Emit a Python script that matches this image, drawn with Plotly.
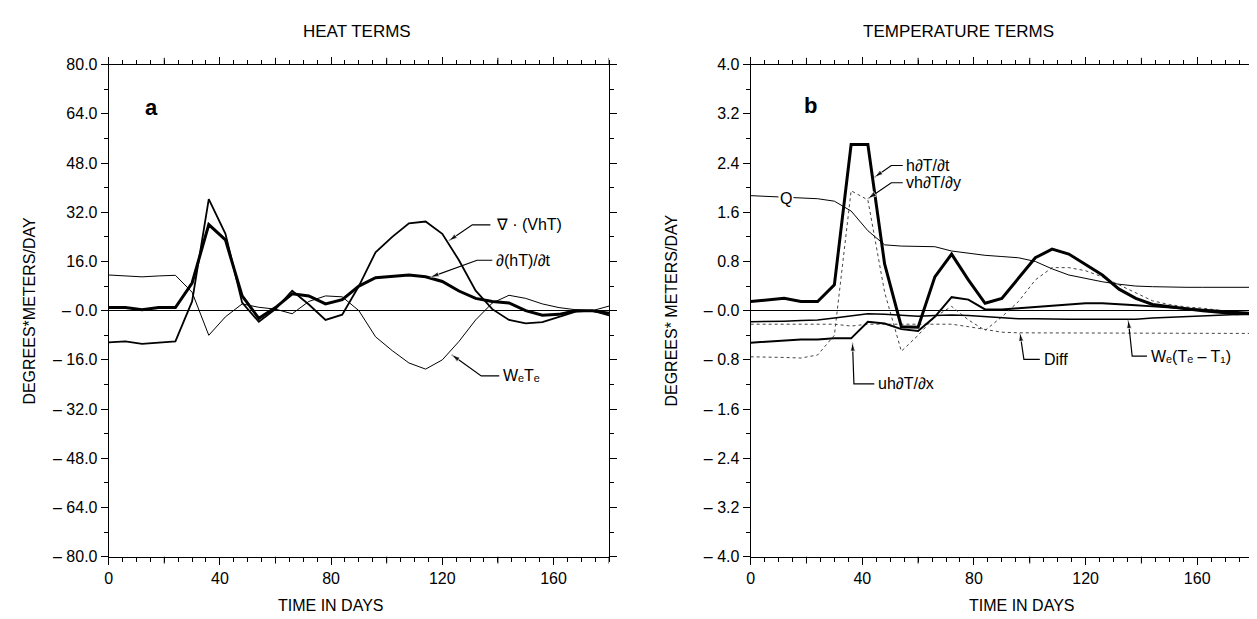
import plotly.graph_objects as go

# time axis (days) shared by both panels
days = [0, 6, 12, 18, 24, 30, 36, 42, 48, 54, 60, 66, 72, 78, 84, 90,
        96, 102, 108, 114, 120, 126, 132, 138, 144, 150, 156, 162, 168, 174, 180]

# panel a: heat terms
dhT_dt = [1.0, 1.0, 0.3, 1.0, 1.0, 9.0, 28.0, 23.0, 4.8, -2.5, 1.0, 5.5, 4.8, 2.2, 3.6, 8.0,
          10.7, 11.1, 11.6, 11.0, 9.5, 6.4, 4.0, 3.0, 2.5, 0.0, -1.5, -1.2, 0.0, 0.0, -0.8]
div_VhT = [-10.3, -10.0, -10.8, -10.3, -10.0, 3.0, 36.3, 25.0, 2.6, -3.6, 0.5, 6.5, 2.0, -3.0, -1.3, 8.0,
           19.0, 24.0, 28.4, 29.0, 25.0, 16.4, 6.5, 0.5, -3.0, -4.1, -3.7, -2.0, -0.3, 0.0, -1.5]
WeTe = [11.6, 11.2, 11.0, 11.3, 11.5, 6.0, -8.0, -2.0, 2.2, 1.1, 0.5, -1.0, 3.0, 4.8, 4.5, 0.0,
        -8.5, -13.0, -17.0, -19.0, -16.0, -10.0, -3.0, 2.5, 5.0, 4.0, 2.2, 1.0, 0.3, 0.0, 1.5]

# panel b: temperature terms
h_dTdt = [0.15, 0.17, 0.2, 0.15, 0.15, 0.42, 2.7, 2.7, 0.76, -0.26, -0.27, 0.55, 0.92, 0.5, 0.12, 0.2,
          0.53, 0.86, 1.0, 0.92, 0.75, 0.58, 0.35, 0.2, 0.1, 0.06, 0.03, 0.0, -0.03, -0.05, -0.05]
vh_dTdy = [-0.75, -0.75, -0.76, -0.77, -0.72, -0.4, 1.95, 1.8, 0.3, -0.66, -0.4, -0.1, 0.07, -0.15, -0.32, -0.1,
           0.15, 0.5, 0.7, 0.7, 0.65, 0.55, 0.42, 0.28, 0.16, 0.1, 0.06, 0.04, 0.0, -0.03, -0.05]
Q = [1.87, 1.86, 1.85, 1.84, 1.82, 1.78, 1.62, 1.3, 1.07, 1.05, 1.05, 1.04, 0.97, 0.93, 0.9, 0.88,
     0.86, 0.8, 0.68, 0.58, 0.52, 0.47, 0.43, 0.4, 0.39, 0.38, 0.38, 0.38, 0.38, 0.38, 0.38]
uh_dTdx = [-0.52, -0.5, -0.48, -0.47, -0.47, -0.45, -0.45, -0.18, -0.21, -0.3, -0.33, -0.1, 0.22, 0.18, 0.02, 0.02,
           0.04, 0.06, 0.08, 0.1, 0.12, 0.12, 0.11, 0.09, 0.07, 0.05, 0.03, 0.01, 0.0, -0.02, -0.04]
Diff = [-0.22, -0.22, -0.22, -0.22, -0.22, -0.22, -0.25, -0.22, -0.22, -0.22, -0.22, -0.22, -0.22, -0.26, -0.3, -0.35,
        -0.36, -0.36, -0.36, -0.36, -0.36, -0.36, -0.36, -0.37, -0.37, -0.37, -0.37, -0.37, -0.37, -0.37, -0.37]
We_Te_T1 = [-0.18, -0.18, -0.17, -0.16, -0.15, -0.12, -0.08, -0.05, -0.06, -0.08, -0.09, -0.08, -0.07, -0.08, -0.1, -0.12,
            -0.13, -0.13, -0.14, -0.14, -0.14, -0.14, -0.14, -0.14, -0.12, -0.11, -0.1, -0.08, -0.07, -0.06, -0.05]

# tick positions / labels
x_labeled = [0, 40, 80, 120, 160]
x_long = [20, 60, 100, 140, 180]
ya_ticks = [-80, -64, -48, -32, -16, 0, 16, 32, 48, 64, 80]
ya_text = ["\u2013 80.0", "\u2013 64.0", "\u2013 48.0", "\u2013 32.0", "\u2013 16.0", "\u2013 0.0",
           "16.0", "32.0", "48.0", "64.0", "80.0"]
yb_ticks = [-4.0, -3.2, -2.4, -1.6, -0.8, 0.0, 0.8, 1.6, 2.4, 3.2, 4.0]
yb_text = ["\u2013 4.0", "\u2013 3.2", "\u2013 2.4", "\u2013 1.6", "\u2013 0.8", "\u2013 0.0",
           "0.8", "1.6", "2.4", "3.2", "4.0"]

W, H = 1257, 619
FONT = "Liberation Sans, DejaVu Sans, Arial, sans-serif"
fig = go.Figure()

# panel a lines
fig.add_trace(go.Scatter(x=days, y=WeTe, mode="lines", line=dict(color="black", width=1),
                         xaxis="x", yaxis="y"))
fig.add_trace(go.Scatter(x=days, y=div_VhT, mode="lines", line=dict(color="black", width=1.8),
                         xaxis="x", yaxis="y"))
fig.add_trace(go.Scatter(x=days, y=dhT_dt, mode="lines", line=dict(color="black", width=3),
                         xaxis="x", yaxis="y"))

# panel b lines
fig.add_trace(go.Scatter(x=days, y=Diff, mode="lines", line=dict(color="#444", width=1, dash="dot"),
                         xaxis="x2", yaxis="y2"))
fig.add_trace(go.Scatter(x=days, y=vh_dTdy, mode="lines", line=dict(color="#444", width=1, dash="dot"),
                         xaxis="x2", yaxis="y2"))
fig.add_trace(go.Scatter(x=days, y=Q, mode="lines", line=dict(color="black", width=1),
                         xaxis="x2", yaxis="y2"))
fig.add_trace(go.Scatter(x=days, y=We_Te_T1, mode="lines", line=dict(color="black", width=1.5),
                         xaxis="x2", yaxis="y2"))
fig.add_trace(go.Scatter(x=days, y=uh_dTdx, mode="lines", line=dict(color="black", width=2),
                         xaxis="x2", yaxis="y2"))
fig.add_trace(go.Scatter(x=days, y=h_dTdt, mode="lines", line=dict(color="black", width=3),
                         xaxis="x2", yaxis="y2"))

top = 1 - 50 / H
bot = 1 - 556 / H

xcommon = dict(range=[0, 180], showline=True, linecolor="black", linewidth=1, mirror="ticks",
               ticks="outside", ticklen=7, tickcolor="black", tickvals=x_labeled,
               minor=dict(ticks="outside", ticklen=4, tick0=0, dtick=5, tickcolor="black"),
               showgrid=False, zeroline=False, tickfont=dict(size=16, color="black"))
ycommon = dict(showline=True, linecolor="black", linewidth=1, mirror="ticks",
               ticks="outside", ticklen=7, tickcolor="black", showgrid=False,
               zeroline=True, zerolinecolor="black", zerolinewidth=1,
               tickfont=dict(size=16, color="black"))

fig.update_layout(
    width=W, height=H, margin=dict(l=0, r=0, t=0, b=0),
    paper_bgcolor="white", plot_bgcolor="white", showlegend=False,
    font=dict(family=FONT, color="black"),
    xaxis=dict(domain=[97 / W, 599 / W], anchor="y", **xcommon),
    yaxis=dict(domain=[bot, top], anchor="x", range=[-80, 80], tickvals=ya_ticks, ticktext=ya_text,
               minor=dict(ticks="outside", ticklen=4, tick0=0, dtick=8, tickcolor="black"), **ycommon),
    xaxis2=dict(domain=[741 / W, 1245 / W], anchor="y2", **xcommon),
    yaxis2=dict(domain=[bot, top], anchor="x2", range=[-4, 4], tickvals=yb_ticks, ticktext=yb_text,
                minor=dict(ticks="outside", ticklen=4, tick0=0, dtick=0.4, tickcolor="black"), **ycommon),
)

# long unlabeled ticks at 20, 60, 100, ... (bottom and top of each panel)
for xr in ["x", "x2"]:
    for v in x_long:
        fig.add_shape(type="line", xref=xr, yref="paper", x0=v, x1=v, y0=bot, y1=bot - 7 / H,
                      line=dict(color="black", width=1))
        fig.add_shape(type="line", xref=xr, yref="paper", x0=v, x1=v, y0=top, y1=top + 7 / H,
                      line=dict(color="black", width=1))


def label(text, x, y, xa, ya, size=16, anchor="left", bg=None):
    fig.add_annotation(text=text, x=x, y=y, xref=xa, yref=ya, showarrow=False,
                       xanchor=anchor, yanchor="middle", font=dict(size=size, family=FONT),
                       bgcolor=bg)


def leader(tip, elbow, end, xa, ya):
    # bent leader: text end -> elbow -> arrow tip, arrowhead drawn as a marker
    fig.add_trace(go.Scatter(x=[end[0], elbow[0], tip[0]], y=[end[1], elbow[1], tip[1]],
                             mode="lines+markers", line=dict(color="black", width=1.2),
                             marker=dict(symbol="arrow", size=[0, 0, 9], color="black",
                                         angleref="previous"),
                             hoverinfo="skip", xaxis=xa, yaxis=ya))


# panel a labels
leader((122.4, 22.7), (130.8, 27.9), (137.3, 27.9), "x", "y")
label("\u2207 \u00b7 (VhT)", 138.5, 27.9, "x", "y")
leader((115.8, 10.9), (132.5, 16.4), (138.0, 16.4), "x", "y")
label("\u2202(hT)/\u2202t", 138.5, 16.4, "x", "y")
leader((123.4, -14.3), (134.0, -21.2), (140.5, -21.2), "x", "y")
label("W\u2091T\u2091", 141.0, -21.2, "x", "y")
label("<b>a</b>", 15.5, 66, "x", "y", size=22, anchor="center")

# panel b labels
leader((44.4, 2.17), (50.4, 2.36), (54.5, 2.36), "x2", "y2")
label("h\u2202T/\u2202t", 55.0, 2.36, "x2", "y2")
leader((42.0, 1.82), (50.4, 2.08), (54.5, 2.08), "x2", "y2")
label("vh\u2202T/\u2202y", 55.0, 2.08, "x2", "y2")
label("Q", 12.8, 1.83, "x2", "y2", anchor="center", bg="white")
leader((36.5, -0.52), (37.0, -1.19), (44.3, -1.19), "x2", "y2")
label("uh\u2202T/\u2202x", 45.0, -1.19, "x2", "y2")
leader((96.5, -0.36), (97.9, -0.79), (103.6, -0.79), "x2", "y2")
label("Diff", 104.3, -0.79, "x2", "y2")
leader((135.3, -0.15), (136.7, -0.74), (142.0, -0.74), "x2", "y2")
label("W\u2091(T\u2091 \u2013 T\u2081)", 142.6, -0.74, "x2", "y2")
label("<b>b</b>", 21.6, 3.34, "x2", "y2", size=22, anchor="center")

# titles and axis titles
for txt, xc in [("HEAT TERMS", 346), ("TEMPERATURE TERMS", 950)]:
    fig.add_annotation(text=txt, x=xc / W, y=1 - 16 / H, xref="paper", yref="paper", showarrow=False,
                       font=dict(size=17, family=FONT), xanchor="center", yanchor="middle")
for xc in [320, 1013]:
    fig.add_annotation(text="TIME IN DAYS", x=xc / W, y=1 - 606 / H, xref="paper", yref="paper",
                       showarrow=False, font=dict(size=16, family=FONT), xanchor="center", yanchor="middle")
for txt, xc in [("DEGREES*METERS/DAY", 18), ("DEGREES* METERS/DAY", 662)]:
    fig.add_annotation(text=txt, x=xc / W, y=1 - 303 / H, xref="paper", yref="paper", showarrow=False,
                       textangle=-90, font=dict(size=16, family=FONT), xanchor="center", yanchor="middle")

fig.write_html("out.html")
